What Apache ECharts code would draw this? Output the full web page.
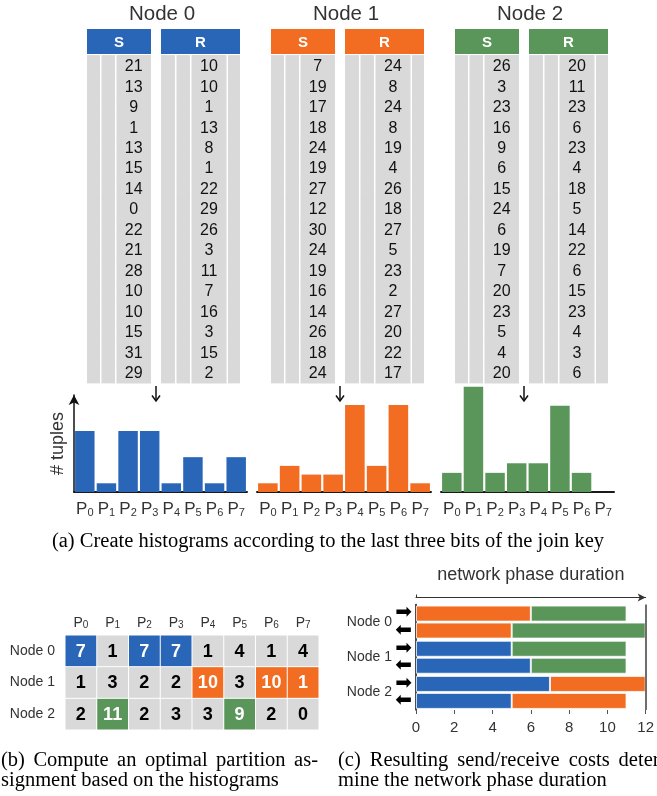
<!DOCTYPE html>
<html>
<head>
<meta charset="utf-8">
<script src="https://cdn.jsdelivr.net/npm/echarts@6/dist/echarts.min.js"></script>
<style>
  html, body { margin: 0; padding: 0; background: #fff; }
  #main { width: 657px; height: 796px; }
</style>
</head>
<body>
<div id="main"></div>
<script>
// ---- data ----
const nodeNames = ['Node 0', 'Node 1', 'Node 2'];
const partitionIds = ['0', '1', '2', '3', '4', '5', '6', '7'];

// join keys held by each node (relations S and R)
const node0S = [21, 13, 9, 1, 13, 15, 14, 0, 22, 21, 28, 10, 10, 15, 31, 29];
const node0R = [10, 10, 1, 13, 8, 1, 22, 29, 26, 3, 11, 7, 16, 3, 15, 2];
const node1S = [7, 19, 17, 18, 24, 19, 27, 12, 30, 24, 19, 16, 14, 26, 18, 24];
const node1R = [24, 8, 24, 8, 19, 4, 26, 18, 27, 5, 23, 2, 27, 20, 22, 17];
const node2S = [26, 3, 23, 16, 9, 6, 15, 24, 6, 19, 7, 20, 23, 5, 4, 20];
const node2R = [20, 11, 23, 6, 23, 4, 18, 5, 14, 22, 6, 15, 23, 4, 3, 6];

// tuples per partition on each node
const histNode0 = [7, 1, 7, 7, 1, 4, 1, 4];
const histNode1 = [1, 3, 2, 2, 10, 3, 10, 1];
const histNode2 = [2, 11, 2, 3, 3, 9, 2, 0];

// node each partition is assigned to
const partitionOwner = [0, 2, 0, 0, 1, 2, 1, 1];

// network cost per node: row = node, column = partner node
const sendTo = [[0, 6, 5], [5, 0, 6], [7, 5, 0]];
const receiveFrom = [[0, 5, 7], [6, 0, 5], [5, 6, 0]];

const durationTicks = [0, 2, 4, 6, 8, 10, 12];

// ---- styles & layout ----
const COLORS = ['#2966b8', '#f26c22', '#5a955a'];
const GRAY = '#d9d9d9';
const SANS = '"Liberation Sans", Arial, sans-serif';
const SERIF = '"Liberation Serif", "Times New Roman", serif';
const TEXT = '#333';

const TABLE_X = [87, 271, 455];
const TABLE_TOP = 55.5, TABLE_H = 327.5;
const HEAD_TOP = 29, HEAD_H = 25;
const S_W = 64, R_OFF = 74, R_W = 79;
const S_COLS = [[0, 13], [14.5, 28], [29.5, 64]];
const R_COLS = [[0, 14], [15.5, 29], [30.5, 65.5], [67, 79]];
const VALUE_COL = 2;

const chart = echarts.init(document.getElementById('main'));

const grids = [], xAxes = [], yAxes = [], series = [], graphics = [];

function addGrid(g) { grids.push(g); return grids.length - 1; }

// one cell row of a key table: gray sub-columns plus the key value
function tableRow(cols) {
  return function (params, api) {
    const row = api.value(0);
    const top = api.coord([0, row - 0.5])[1];
    const bottom = api.coord([0, row + 0.5])[1];
    const children = cols.map(function (c) {
      const x0 = api.coord([c[0], row])[0];
      const x1 = api.coord([c[1], row])[0];
      return {
        type: 'rect',
        shape: { x: x0, y: top - 0.4, width: x1 - x0, height: bottom - top + 0.8 },
        style: { fill: GRAY }
      };
    });
    const vc = cols[VALUE_COL];
    const p = api.coord([(vc[0] + vc[1]) / 2, row]);
    children.push({
      type: 'text',
      z2: 10,
      style: {
        text: String(api.value(1)), x: p[0], y: p[1] + 1,
        textAlign: 'center', textVerticalAlign: 'middle',
        font: '16px ' + SANS, fill: '#111'
      }
    });
    return { type: 'group', children: children };
  };
}

const tables = [[node0S, node0R], [node1S, node1R], [node2S, node2R]];
tables.forEach(function (pair, n) {
  [0, 1].forEach(function (k) {
    const left = TABLE_X[n] + (k ? R_OFF : 0);
    const w = k ? R_W : S_W;
    const cols = k ? R_COLS : S_COLS;
    const gi = addGrid({ left: left, top: TABLE_TOP, width: w, height: TABLE_H });
    xAxes.push({ gridIndex: gi, type: 'value', min: 0, max: w, show: false });
    yAxes.push({ gridIndex: gi, type: 'value', min: -0.5, max: 15.5, inverse: true, show: false });
    series.push({
      type: 'custom',
      xAxisIndex: xAxes.length - 1, yAxisIndex: yAxes.length - 1,
      data: pair[k].map(function (v, i) { return [i, v]; }),
      renderItem: tableRow(cols),
      silent: true
    });
    // column header
    graphics.push({
      type: 'rect', shape: { x: left, y: HEAD_TOP, width: w, height: HEAD_H },
      style: { fill: COLORS[n] }
    });
    graphics.push({
      type: 'text', x: left + w / 2, y: HEAD_TOP + HEAD_H / 2 + 1,
      style: { text: k ? 'R' : 'S', textAlign: 'center', textVerticalAlign: 'middle',
        font: 'bold 15px ' + SANS, fill: '#fff' }
    });
  });
  // node title
  graphics.push({
    type: 'text', x: TABLE_X[n] + 75, y: 14,
    style: { text: nodeNames[n], textAlign: 'center', textVerticalAlign: 'middle',
      font: '20.5px ' + SANS, fill: TEXT }
  });
  // arrow from table to histogram
  const ax = TABLE_X[n] + 69;
  graphics.push({
    type: 'line', shape: { x1: ax, y1: 386, x2: ax, y2: 401 },
    style: { stroke: '#111', lineWidth: 1.5 }
  });
  graphics.push({
    type: 'polyline', shape: { points: [[ax - 4, 395.5], [ax, 401], [ax + 4, 395.5]] },
    style: { stroke: '#111', lineWidth: 1.5, fill: null }
  });
});

// ---- histograms ----
const histData = [histNode0, histNode1, histNode2];
const histGrid = [
  { left: 74, top: 395, width: 173, height: 97, max: 11.14 },
  { left: 257, top: 395, width: 174, height: 97, max: 11.14 },
  { left: 441, top: 380, width: 173, height: 112, max: 11.7 }
];
const subLabel = function (v) { return '{p|P}{s|' + v + '}'; };

histData.forEach(function (vals, n) {
  const h = histGrid[n];
  const gi = addGrid({ left: h.left, top: h.top, width: h.width, height: h.height });
  xAxes.push({
    gridIndex: gi, type: 'category', data: partitionIds,
    axisLine: { show: true, lineStyle: { color: '#1a1a1a', width: 2 } },
    axisTick: { show: false },
    axisLabel: {
      interval: 0, hideOverlap: false, margin: 6, formatter: subLabel,
      rich: {
        p: { fontSize: 17, fontFamily: SANS, color: TEXT, lineHeight: 20, verticalAlign: 'bottom' },
        s: { fontSize: 11, fontFamily: SANS, color: TEXT, lineHeight: 10, verticalAlign: 'bottom' }
      }
    }
  });
  yAxes.push({
    gridIndex: gi, type: 'value', min: 0, max: h.max,
    axisLine: n === 0
      ? { show: true, symbol: ['none', 'arrow'], symbolSize: [8, 10], lineStyle: { color: '#111', width: 1.5 } }
      : { show: false },
    axisTick: { show: false }, axisLabel: { show: false }, splitLine: { show: false },
    name: n === 0 ? '# tuples' : '',
    nameLocation: 'middle', nameRotate: 90, nameGap: 7,
    nameTextStyle: { fontSize: 18, fontFamily: SANS, color: TEXT }
  });
  series.push({
    type: 'bar', xAxisIndex: xAxes.length - 1, yAxisIndex: yAxes.length - 1,
    data: vals, barCategoryGap: '10%',
    itemStyle: { color: COLORS[n] }, silent: true
  });
});

// ---- partition assignment matrix ----
(function () {
  const gi = addGrid({ left: 65, top: 635, width: 254, height: 95 });
  xAxes.push({
    gridIndex: gi, type: 'category', data: partitionIds, position: 'top',
    axisLine: { show: false }, axisTick: { show: false },
    axisLabel: {
      interval: 0, hideOverlap: false, margin: 5, formatter: subLabel,
      rich: {
        p: { fontSize: 14, fontFamily: SANS, color: TEXT, lineHeight: 16, verticalAlign: 'bottom' },
        s: { fontSize: 10, fontFamily: SANS, color: TEXT, lineHeight: 8, verticalAlign: 'bottom' }
      }
    }
  });
  yAxes.push({
    gridIndex: gi, type: 'category', data: nodeNames, inverse: true,
    axisLine: { show: false }, axisTick: { show: false },
    axisLabel: { margin: 10, fontSize: 14, fontFamily: SANS, color: TEXT }
  });
  const cells = [];
  histData.forEach(function (vals, r) {
    vals.forEach(function (v, c) { cells.push([c, r, v]); });
  });
  series.push({
    type: 'custom', xAxisIndex: xAxes.length - 1, yAxisIndex: yAxes.length - 1,
    data: cells, silent: true,
    renderItem: function (params, api) {
      const c = api.value(0), r = api.value(1), v = api.value(2);
      const p = api.coord([c, r]);
      const s = api.size([1, 1]);
      const own = partitionOwner[c] === r;
      return {
        type: 'group', children: [
          { type: 'rect',
            shape: { x: p[0] - s[0] / 2 + 0.5, y: p[1] - s[1] / 2 + 0.5, width: s[0] - 1, height: s[1] - 1 },
            style: { fill: own ? COLORS[r] : GRAY } },
          { type: 'text', z2: 10,
            style: { text: String(v), x: p[0], y: p[1] + 1, textAlign: 'center', textVerticalAlign: 'middle',
              font: 'bold 18px ' + SANS, fill: own ? '#fff' : '#000' } }
        ]
      };
    }
  });
})();

// ---- send / receive costs ----
(function () {
  const gi = addGrid({ left: 416, top: 604.5, width: 235, height: 105.5 });
  xAxes.push({
    gridIndex: gi, type: 'value', min: durationTicks[0], max: durationTicks[durationTicks.length - 1],
    interval: durationTicks[1] - durationTicks[0],
    axisLine: { show: false },
    axisTick: { show: true, length: 4, lineStyle: { color: '#555' } },
    axisLabel: { margin: 10, fontSize: 15, fontFamily: SANS, color: TEXT },
    splitLine: { show: false }
  });
  const xMain = xAxes.length - 1;
  xAxes.push({
    gridIndex: gi, type: 'value', position: 'top', offset: 7,
    min: durationTicks[0], max: durationTicks[durationTicks.length - 1],
    axisLine: { show: true, symbol: ['none', 'arrow'], symbolSize: [6, 8], lineStyle: { color: '#333', width: 1 } },
    axisTick: { show: true, customValues: [0], length: 3, inside: false, lineStyle: { color: '#333' } },
    axisLabel: { show: false }, splitLine: { show: false },
    name: 'network phase duration', nameLocation: 'middle', nameGap: 13,
    nameTextStyle: { fontSize: 18, fontFamily: SANS, color: TEXT }
  });
  yAxes.push({
    gridIndex: gi, type: 'category', data: nodeNames, inverse: true, position: 'left',
    axisLine: { show: true, lineStyle: { color: '#111', width: 1.5 } },
    axisTick: { show: false },
    axisLabel: { margin: 24, fontSize: 14, fontFamily: SANS, color: TEXT }
  });
  const yMain = yAxes.length - 1;
  yAxes.push({
    gridIndex: gi, type: 'category', data: ['s0', 'r0', 's1', 'r1', 's2', 'r2'], inverse: true, position: 'left',
    axisLine: { show: false }, axisTick: { show: false },
    axisLabel: {
      interval: 0, margin: 4, fontSize: 20, fontFamily: '"DejaVu Sans", sans-serif', color: '#000',
      formatter: function (v) { return v.charAt(0) === 's' ? '\u27A1' : '\u2B05'; }
    }
  });
  [['send', sendTo], ['recv', receiveFrom]].forEach(function (pair) {
    [0, 1, 2].forEach(function (k) {
      const s = {
        type: 'bar', name: pair[0] + k, stack: pair[0],
        xAxisIndex: xMain, yAxisIndex: yMain,
        data: pair[1].map(function (row) { return row[k] === 0 ? '-' : row[k]; }),
        barWidth: 16, barGap: '6%',
        itemStyle: { color: COLORS[k], borderColor: 'rgba(255,255,255,0.75)', borderWidth: 1 },
        silent: true
      };
      if (pair[0] === 'send' && k === 0) {
        s.markLine = {
          silent: true, symbol: ['none', 'none'], label: { show: false },
          lineStyle: { color: '#6e6e6e', width: 2, type: 'solid' },
          data: [{ xAxis: durationTicks[durationTicks.length - 1] }]
        };
      }
      series.push(s);
    });
  });
})();

// ---- captions (justified lines get their word gaps widened) ----
const CAPTION_FONT = '20.5px ' + SERIF;
const measureCtx = document.createElement('canvas').getContext('2d');
measureCtx.font = CAPTION_FONT;

function caption(x, y, text, align, justifyWidth) {
  if (!justifyWidth) {
    graphics.push({
      type: 'text', x: x, y: y,
      style: { text: text, textAlign: align, textVerticalAlign: 'middle', font: CAPTION_FONT, fill: '#000' }
    });
    return;
  }
  const words = text.split(' ');
  const widths = words.map(function (w) { return measureCtx.measureText(w).width; });
  const total = widths.reduce(function (a, b) { return a + b; }, 0);
  const gap = (justifyWidth - total) / (words.length - 1);
  let cx = x;
  words.forEach(function (w, i) {
    graphics.push({
      type: 'text', x: cx, y: y,
      style: { text: w, textAlign: 'left', textVerticalAlign: 'middle', font: CAPTION_FONT, fill: '#000' }
    });
    cx += widths[i] + gap;
  });
}
caption(328, 542, '(a) Create histograms according to the last three bits of the join key', 'center');
caption(1, 761, '(b) Compute an optimal partition as-', 'left', 317);
caption(1, 781, 'signment based on the histograms', 'left');
caption(338, 761, '(c) Resulting send/receive costs deter-', 'left', 328);
caption(338, 781, 'mine the network phase duration', 'left');

chart.setOption({
  animation: false,
  backgroundColor: '#fff',
  textStyle: { fontFamily: SANS },
  grid: grids,
  xAxis: xAxes,
  yAxis: yAxes,
  series: series,
  graphic: { elements: graphics }
});
</script>
</body>
</html>
